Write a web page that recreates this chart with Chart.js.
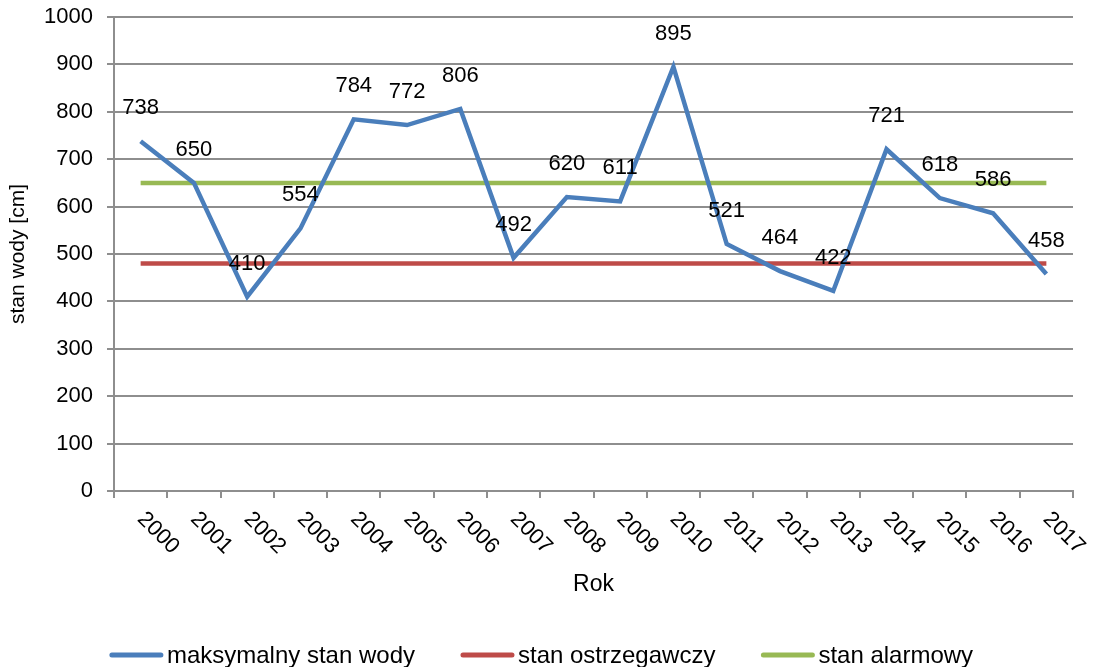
<!DOCTYPE html>
<html>
<head>
<meta charset="utf-8">
<script src="https://cdn.jsdelivr.net/npm/chart.js@4"></script>
<style>
  html, body { margin: 0; padding: 0; background: #fff; }
  #wrap { width: 1094px; height: 667px; }
</style>
</head>
<body>
<div id="wrap"><canvas id="waterChart"></canvas></div>
<script>
const years = ['2000', '2001', '2002', '2003', '2004', '2005', '2006', '2007', '2008',
  '2009', '2010', '2011', '2012', '2013', '2014', '2015', '2016', '2017'];
const maxLevel = [738, 650, 410, 554, 784, 772, 806, 492, 620, 611, 895, 521, 464, 422, 721, 618, 586, 458];
const warningLevel = 480;
const alarmLevel = 650;

const FONT = "'Liberation Sans', Arial, sans-serif";
const gridGray = '#8e8e8e';

// x labels are turned 45deg clockwise, Chart.js only turns them the other way
const rotatedLabels = {
  id: 'rotatedLabels',
  afterDraw(chart) {
    const ctx = chart.ctx;
    const xs = chart.scales.x;
    ctx.save();
    ctx.font = '22px ' + FONT;
    ctx.fillStyle = '#000';
    ctx.textAlign = 'left';
    ctx.textBaseline = 'top';
    years.forEach((y, i) => {
      ctx.save();
      ctx.translate(xs.getPixelForValue(i) + 8, chart.chartArea.bottom + 17);
      ctx.rotate(Math.PI / 4);
      ctx.fillText(y, 0, 0);
      ctx.restore();
    });
    ctx.restore();
  }
};

const valueLabels = {
  id: 'valueLabels',
  afterDatasetsDraw(chart) {
    const ctx = chart.ctx;
    const meta = chart.getDatasetMeta(0);
    ctx.save();
    ctx.font = '22px ' + FONT;
    ctx.fillStyle = '#000';
    ctx.textAlign = 'center';
    ctx.textBaseline = 'middle';
    meta.data.forEach((pt, i) => {
      ctx.fillText(String(maxLevel[i]), pt.x, pt.y - 33);
    });
    ctx.restore();
  }
};

// legend drawn by hand: wide gaps between entries, tiny gap swatch->text
const bottomLegend = {
  id: 'bottomLegend',
  afterDraw(chart) {
    const ctx = chart.ctx;
    const sw = 55, gapText = 3, gapItem = 45, cy = 655;
    ctx.save();
    ctx.font = '24px ' + FONT;
    ctx.textBaseline = 'middle';
    ctx.textAlign = 'left';
    const items = chart.data.datasets.map(ds => ({ text: ds.label, color: ds.borderColor, w: ctx.measureText(ds.label).width }));
    const total = items.reduce((s, it) => s + sw + gapText + it.w, 0) + gapItem * (items.length - 1);
    let x = 541 - total / 2;
    items.forEach(it => {
      ctx.strokeStyle = it.color;
      ctx.lineWidth = 5;
      ctx.lineCap = 'round';
      ctx.beginPath();
      ctx.moveTo(x + 3, cy);
      ctx.lineTo(x + sw - 3, cy);
      ctx.stroke();
      ctx.fillStyle = '#000';
      ctx.fillText(it.text, x + sw + gapText, cy + 1);
      x += sw + gapText + it.w + gapItem;
    });
    ctx.restore();
  }
};

new Chart(document.getElementById('waterChart').getContext('2d'), {
  type: 'line',
  data: {
    labels: years,
    datasets: [{
      label: 'maksymalny stan wody',
      data: maxLevel,
      borderColor: '#4A7EBB',
      backgroundColor: '#4A7EBB',
      borderWidth: 4.5,
      pointRadius: 0,
      tension: 0
    }, {
      label: 'stan ostrzegawczy',
      data: years.map(() => warningLevel),
      borderColor: '#BE4B48',
      backgroundColor: '#BE4B48',
      borderWidth: 4.5,
      pointRadius: 0
    }, {
      label: 'stan alarmowy',
      data: years.map(() => alarmLevel),
      borderColor: '#98B954',
      backgroundColor: '#98B954',
      borderWidth: 4.5,
      pointRadius: 0
    }]
  },
  options: {
    responsive: true,
    maintainAspectRatio: false,
    animation: false,
    layout: { padding: { left: 4, right: 21, top: 17, bottom: 46 } },
    plugins: {
      tooltip: { enabled: false },
      legend: { display: false }
    },
    scales: {
      x: {
        offset: true,
        grid: { offset: true, drawOnChartArea: false, drawTicks: true, tickLength: 7, color: gridGray, lineWidth: 2 },
        border: { color: gridGray, width: 2 },
        ticks: { display: false },
        title: { display: true, text: 'Rok', color: '#000', font: { family: FONT, size: 23 }, padding: { top: 0, bottom: 23 } },
        afterFit(scale) { scale.height = 130; }
      },
      y: {
        min: 0,
        max: 1000,
        ticks: {
          stepSize: 100,
          color: '#000',
          font: { family: FONT, size: 22 },
          padding: 14,
          callback: v => String(v)
        },
        grid: { color: gridGray, lineWidth: 2, tickLength: 7 },
        border: { color: gridGray, width: 2 },
        title: { display: true, text: 'stan wody [cm]', color: '#000', font: { family: FONT, size: 21 }, padding: { top: 2, bottom: 0 } },
        afterFit(scale) {
          scale.width = 110;
          scale.paddingTop = 0;
          scale.paddingBottom = 0;
        }
      }
    }
  },
  plugins: [rotatedLabels, valueLabels, bottomLegend]
});
</script>
</body>
</html>
